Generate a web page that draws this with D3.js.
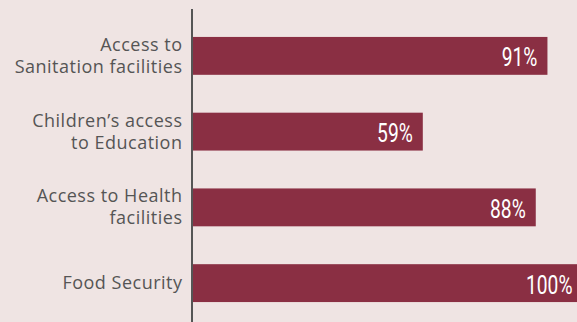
<!DOCTYPE html>
<html>
<head>
<meta charset="utf-8">
<script src="https://cdn.jsdelivr.net/npm/d3@7"></script>
<style>
  body { margin: 0; background: #efe4e3; }
  svg { display: block; }
</style>
</head>
<body>
<div id="chart"></div>
<script>
var categories = [
  ["Access to", "Sanitation facilities"],
  ["Children\u2019s access", "to Education"],
  ["Access to Health", "facilities"],
  ["Food Security"]
];
var values = [91, 59, 88, 100];

var W = 577, H = 322;
var margin = {top: 18, left: 193};
var barcolor = "#8a2f43";

var svg = d3.select("#chart").append("svg")
  .attr("width", W).attr("height", H);

svg.append("rect").attr("width", W).attr("height", H).style("fill", "#efe4e3");

var keys = categories.map(function(d){ return d.join(" "); });

var y = d3.scaleBand().domain(keys).range([margin.top, 321])
  .paddingInner(0.5).paddingOuter(0.25);
var x = d3.scaleLinear().domain([0, 100]).range([margin.left, 582.5]);

var bars = svg.selectAll(".bar").data(values).enter().append("g")
  .attr("class", "bar")
  .attr("transform", function(d, i){ return "translate(0," + y(keys[i]) + ")"; });

bars.append("rect")
  .attr("x", x(0))
  .attr("width", function(d){ return x(d) - x(0); })
  .attr("height", y.bandwidth())
  .style("fill", barcolor);

// narrow square-ish numbers: squeeze horizontally
bars.append("text")
  .text(function(d){ return d + "%"; })
  .attr("transform", function(d){
    return "translate(" + (x(d) - 10) + "," + (y.bandwidth() / 2 + 10.5) + ") scale(0.74,1)";
  })
  .style("text-anchor", "end")
  .style("fill", "#fff")
  .style("font-family", "Roboto, sans-serif")
  .style("font-size", "26px");

// category labels
var labels = svg.selectAll(".lab").data(categories).enter().append("text")
  .attr("class", "lab")
  .attr("transform", function(d, i){
    return "translate(182.5," + (y(keys[i]) + y.bandwidth() / 2) + ")";
  })
  .style("text-anchor", "end")
  .style("fill", "#555")
  .style("font-family", "'Open Sans', sans-serif")
  .style("font-size", "18px")
  .style("letter-spacing", "0.5px");

labels.each(function(d){
  var t = d3.select(this);
  var n = d.length;
  d.forEach(function(line, j){
    t.append("tspan").attr("x", 0)
      .attr("y", (j - (n - 1) / 2) * 22 + 6)
      .text(line);
  });
});

svg.append("line")
  .attr("x1", 192).attr("x2", 192)
  .attr("y1", 9).attr("y2", H)
  .style("stroke", "#555").style("stroke-width", 2);
</script>
</body>
</html>
